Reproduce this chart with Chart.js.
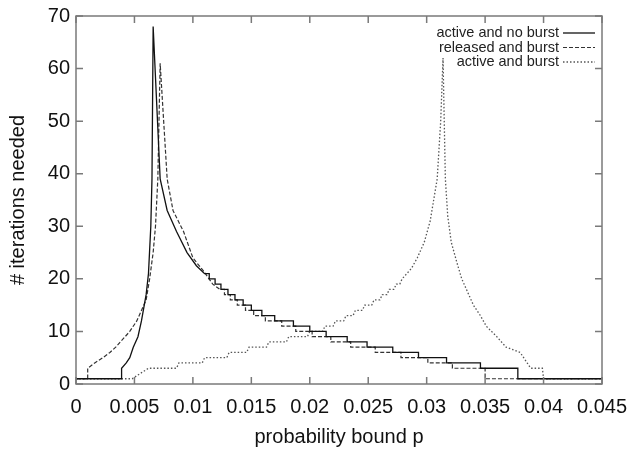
<!DOCTYPE html>
<html>
<head>
<meta charset="utf-8">
<script src="https://cdn.jsdelivr.net/npm/chart.js@4.4.1/dist/chart.umd.min.js"></script>
<style>
  html, body { margin: 0; padding: 0; background: #fff; }
  #wrap { width: 629px; height: 453px; }
</style>
</head>
<body>
<div id="wrap"><canvas id="iterChart"></canvas></div>
<script>
// tick labels
const xTicks = [0, 0.005, 0.01, 0.015, 0.02, 0.025, 0.03, 0.035, 0.04, 0.045];
const yTicks = [0, 10, 20, 30, 40, 50, 60, 70];

const seriesNames = ['active and no burst', 'released and burst', 'active and burst'];

// [p, iterations] corners
const activeNoBurst = [
  [0, 1], [0.0039, 1], [0.0039, 3], [0.0043, 4], [0.0046, 5], [0.0049, 7], [0.0053, 9],
  [0.0056, 12], [0.0060, 17], [0.0062, 21], [0.0064, 30], [0.0065, 39], [0.0066, 68],
  [0.0072, 39], [0.0078, 33], [0.0086, 29], [0.0095, 25], [0.0103, 22.5], [0.0110, 21],
  [0.0114, 21], [0.0114, 20], [0.0119, 20], [0.0119, 19], [0.0124, 19], [0.0124, 18],
  [0.0130, 18], [0.0130, 17], [0.0136, 17], [0.0136, 16], [0.0143, 16], [0.0143, 15],
  [0.0150, 15], [0.0150, 14], [0.0159, 14], [0.0159, 13], [0.0170, 13], [0.0170, 12],
  [0.0186, 12], [0.0186, 11], [0.0200, 11], [0.0200, 10], [0.0214, 10], [0.0214, 9],
  [0.0232, 9], [0.0232, 8], [0.0249, 8], [0.0249, 7], [0.0271, 7], [0.0271, 6],
  [0.0293, 6], [0.0293, 5], [0.0317, 5], [0.0317, 4], [0.0346, 4], [0.0346, 3],
  [0.0378, 3], [0.0378, 1], [0.045, 1]
];

const releasedBurst = [
  [0, 1], [0.0010, 1], [0.0010, 3], [0.0016, 4], [0.0023, 5], [0.0029, 6], [0.0034, 7],
  [0.0038, 8], [0.0042, 9], [0.0046, 10], [0.0052, 12], [0.0056, 14], [0.0060, 16],
  [0.0063, 20], [0.0066, 25], [0.0068, 30], [0.0070, 39], [0.0072, 61],
  [0.0078, 39], [0.0083, 33], [0.0092, 29], [0.0100, 24], [0.0109, 21.5], [0.0117, 19],
  [0.0123, 18], [0.0127, 18], [0.0127, 17], [0.0132, 17], [0.0132, 16], [0.0138, 16],
  [0.0138, 15], [0.0145, 15], [0.0145, 14], [0.0152, 14], [0.0152, 13], [0.0162, 13],
  [0.0162, 12], [0.0176, 12], [0.0176, 11], [0.0188, 11], [0.0188, 10], [0.0202, 10],
  [0.0202, 9], [0.0218, 9], [0.0218, 8], [0.0235, 8], [0.0235, 7], [0.0256, 7],
  [0.0256, 6], [0.0278, 6], [0.0278, 5], [0.0301, 5], [0.0301, 4], [0.0322, 4],
  [0.0322, 3], [0.0350, 3], [0.0350, 1], [0.045, 1]
];

const activeBurst = [
  [0, 1], [0.0048, 1], [0.0062, 3], [0.0086, 3], [0.0088, 4], [0.0108, 4], [0.0110, 5],
  [0.0129, 5], [0.0131, 6], [0.0146, 6], [0.0148, 7], [0.0163, 7], [0.0165, 8],
  [0.0180, 8], [0.0182, 9], [0.0198, 9], [0.0200, 10], [0.0211, 10], [0.0213, 11],
  [0.0220, 11], [0.0222, 12], [0.0229, 12], [0.0231, 13], [0.0237, 13], [0.0239, 14],
  [0.0245, 14], [0.0247, 15], [0.0253, 15], [0.0255, 16], [0.0260, 16], [0.0262, 17],
  [0.0266, 17], [0.0268, 18], [0.0272, 18], [0.0274, 19], [0.0277, 19], [0.0279, 20],
  [0.0283, 21], [0.0287, 22], [0.0292, 24], [0.0298, 27], [0.0303, 31], [0.0306, 35],
  [0.0309, 39], [0.0312, 50], [0.0314, 62],
  [0.0316, 39], [0.0318, 32], [0.0321, 27], [0.0326, 23], [0.0330, 20], [0.0334, 18],
  [0.0340, 15], [0.0346, 13], [0.0351, 11], [0.0360, 9], [0.0368, 7], [0.0380, 6],
  [0.0386, 4], [0.0389, 3], [0.0399, 3], [0.0400, 1], [0.045, 1]
];

const toPoints = (pairs) => pairs.map(([p, n]) => ({ x: p, y: n }));

Chart.defaults.font.family = '"Liberation Sans", Arial, sans-serif';
Chart.defaults.color = '#111';

// gnuplot style frame with inward ticks on every side
const frameTicks = {
  id: 'frameTicks',
  afterDatasetsDraw(chart) {
    const { ctx, chartArea: a, scales: { x, y } } = chart;
    ctx.save();
    ctx.strokeStyle = '#7a7a7a';
    ctx.lineWidth = 1.5;
    ctx.strokeRect(a.left, a.top, a.right - a.left, a.bottom - a.top);
    ctx.beginPath();
    xTicks.forEach((v) => {
      const px = x.getPixelForValue(v);
      ctx.moveTo(px, a.bottom); ctx.lineTo(px, a.bottom - 7);
      ctx.moveTo(px, a.top); ctx.lineTo(px, a.top + 7);
    });
    yTicks.forEach((v) => {
      const py = y.getPixelForValue(v);
      ctx.moveTo(a.left, py); ctx.lineTo(a.left + 7, py);
      ctx.moveTo(a.right, py); ctx.lineTo(a.right - 7, py);
    });
    ctx.stroke();
    ctx.restore();
  }
};

// key in the top right corner: text first, line sample after it
const keyLegend = {
  id: 'keyLegend',
  afterDraw(chart) {
    const { ctx, chartArea: a } = chart;
    ctx.save();
    ctx.font = '14.5px "Liberation Sans", Arial, sans-serif';
    ctx.textAlign = 'right';
    ctx.textBaseline = 'middle';
    chart.data.datasets.forEach((ds, i) => {
      const yy = a.top + 17 + i * 14.5;
      ctx.fillStyle = '#222';
      ctx.fillText(ds.label, a.right - 43, yy);
      ctx.strokeStyle = ds.borderColor;
      ctx.lineWidth = ds.borderWidth;
      ctx.setLineDash(ds.borderDash || []);
      ctx.beginPath();
      ctx.moveTo(a.right - 39, yy);
      ctx.lineTo(a.right - 7, yy);
      ctx.stroke();
    });
    ctx.restore();
  }
};

new Chart(document.getElementById('iterChart'), {
  type: 'line',
  data: {
    datasets: [
      {
        label: seriesNames[0],
        data: toPoints(activeNoBurst),
        borderColor: '#111',
        borderWidth: 1.3,
        pointRadius: 0
      },
      {
        label: seriesNames[1],
        data: toPoints(releasedBurst),
        borderColor: '#333',
        borderWidth: 1.2,
        borderDash: [4, 2],
        pointRadius: 0
      },
      {
        label: seriesNames[2],
        data: toPoints(activeBurst),
        borderColor: '#555',
        borderWidth: 1.3,
        borderDash: [1.5, 2],
        pointRadius: 0
      }
    ]
  },
  options: {
    responsive: true,
    maintainAspectRatio: false,
    animation: false,
    layout: { autoPadding: false, padding: { top: 16, right: 27, left: 0, bottom: 0 } },
    plugins: {
      legend: { display: false },
      tooltip: { enabled: false }
    },
    scales: {
      x: {
        type: 'linear',
        min: 0,
        max: 0.045,
        afterBuildTicks: (s) => { s.ticks = xTicks.map((v) => ({ value: v })); },
        afterFit: (s) => {
          s.height = 69;
          s.paddingLeft = 0;
          s.paddingRight = 0; // let "0.045" hang into the right margin
        },
        grid: { display: false, drawTicks: false },
        border: { display: false },
        ticks: {
          padding: 11,
          font: { size: 20 },
          callback: (v) => String(+v.toFixed(3))
        },
        title: {
          display: true,
          text: 'probability bound p',
          font: { size: 20 },
          padding: { top: 0, bottom: 4 }
        }
      },
      y: {
        min: 0,
        max: 70,
        afterBuildTicks: (s) => { s.ticks = yTicks.map((v) => ({ value: v })); },
        afterFit: (s) => {
          s.width = 76;
          s.paddingTop = 0;
          s.paddingBottom = 0;
        },
        grid: { display: false, drawTicks: false },
        border: { display: false },
        ticks: {
          padding: 6,
          font: { size: 20 }
        },
        title: {
          display: true,
          text: '# iterations needed',
          font: { size: 20 },
          padding: { top: 6, bottom: 0 }
        }
      }
    }
  },
  plugins: [frameTicks, keyLegend]
});
</script>
</body>
</html>
